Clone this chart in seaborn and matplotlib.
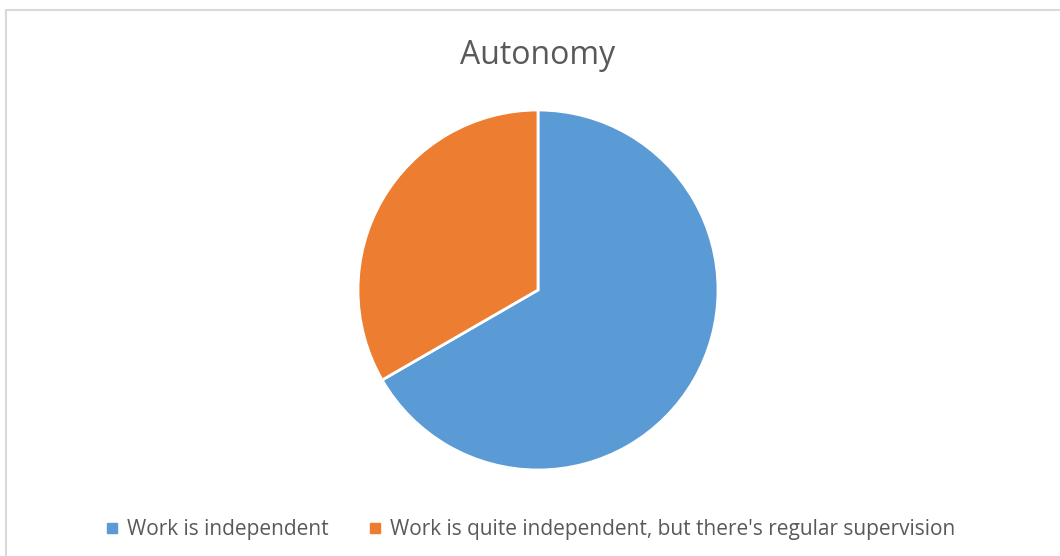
import matplotlib
matplotlib.use("Agg")
import matplotlib.pyplot as plt
from matplotlib.lines import Line2D
from matplotlib.patches import Rectangle
import seaborn as sns

title = "Autonomy"
categories = ["Work is independent",
              "Work is quite independent, but there's regular supervision"]
values = [2, 1]
colors = ["#5B9BD5", "#ED7D31"]

sns.set_theme(style="white")
plt.rcParams['font.family'] = ['Open Sans', 'DejaVu Sans']
text_color = "#595959"

W, H = 1060, 556
fig = plt.figure(figsize=(W / 100, H / 100), dpi=100)
fig.patch.set_facecolor("white")

# chart-area border
fig.add_artist(Rectangle((6 / W, -0.01), 1.1, 1 - 10 / H + 0.01,
                         transform=fig.transFigure, fill=False,
                         edgecolor="#D9D9D9", linewidth=1.5))

cx, cy, r = 538, 290, 180
ax = fig.add_axes([(cx - r) / W, (H - cy - r) / H, 2 * r / W, 2 * r / H])
ax.pie(values, colors=colors, startangle=90, counterclock=False,
       wedgeprops=dict(edgecolor="white", linewidth=2), radius=1)
ax.set_xlim(-1, 1)
ax.set_ylim(-1, 1)
ax.set_aspect("equal")
ax.axis("off")

fig.text(cx / W, 1 - 56 / H, title, ha="center", va="center",
         fontsize=23, color=text_color)

handles = [Line2D([], [], marker="s", linestyle="none", markersize=7,
                  markerfacecolor=c, markeredgecolor=c) for c in colors]
fig.legend(handles, categories, loc="center", bbox_to_anchor=(530 / W, 1 - 530 / H),
           ncol=2, frameon=False, fontsize=15.0, labelcolor=text_color,
           handlelength=0.7, handletextpad=0.35, columnspacing=1.9)

fig.savefig("out.png", dpi=100, facecolor="white")
